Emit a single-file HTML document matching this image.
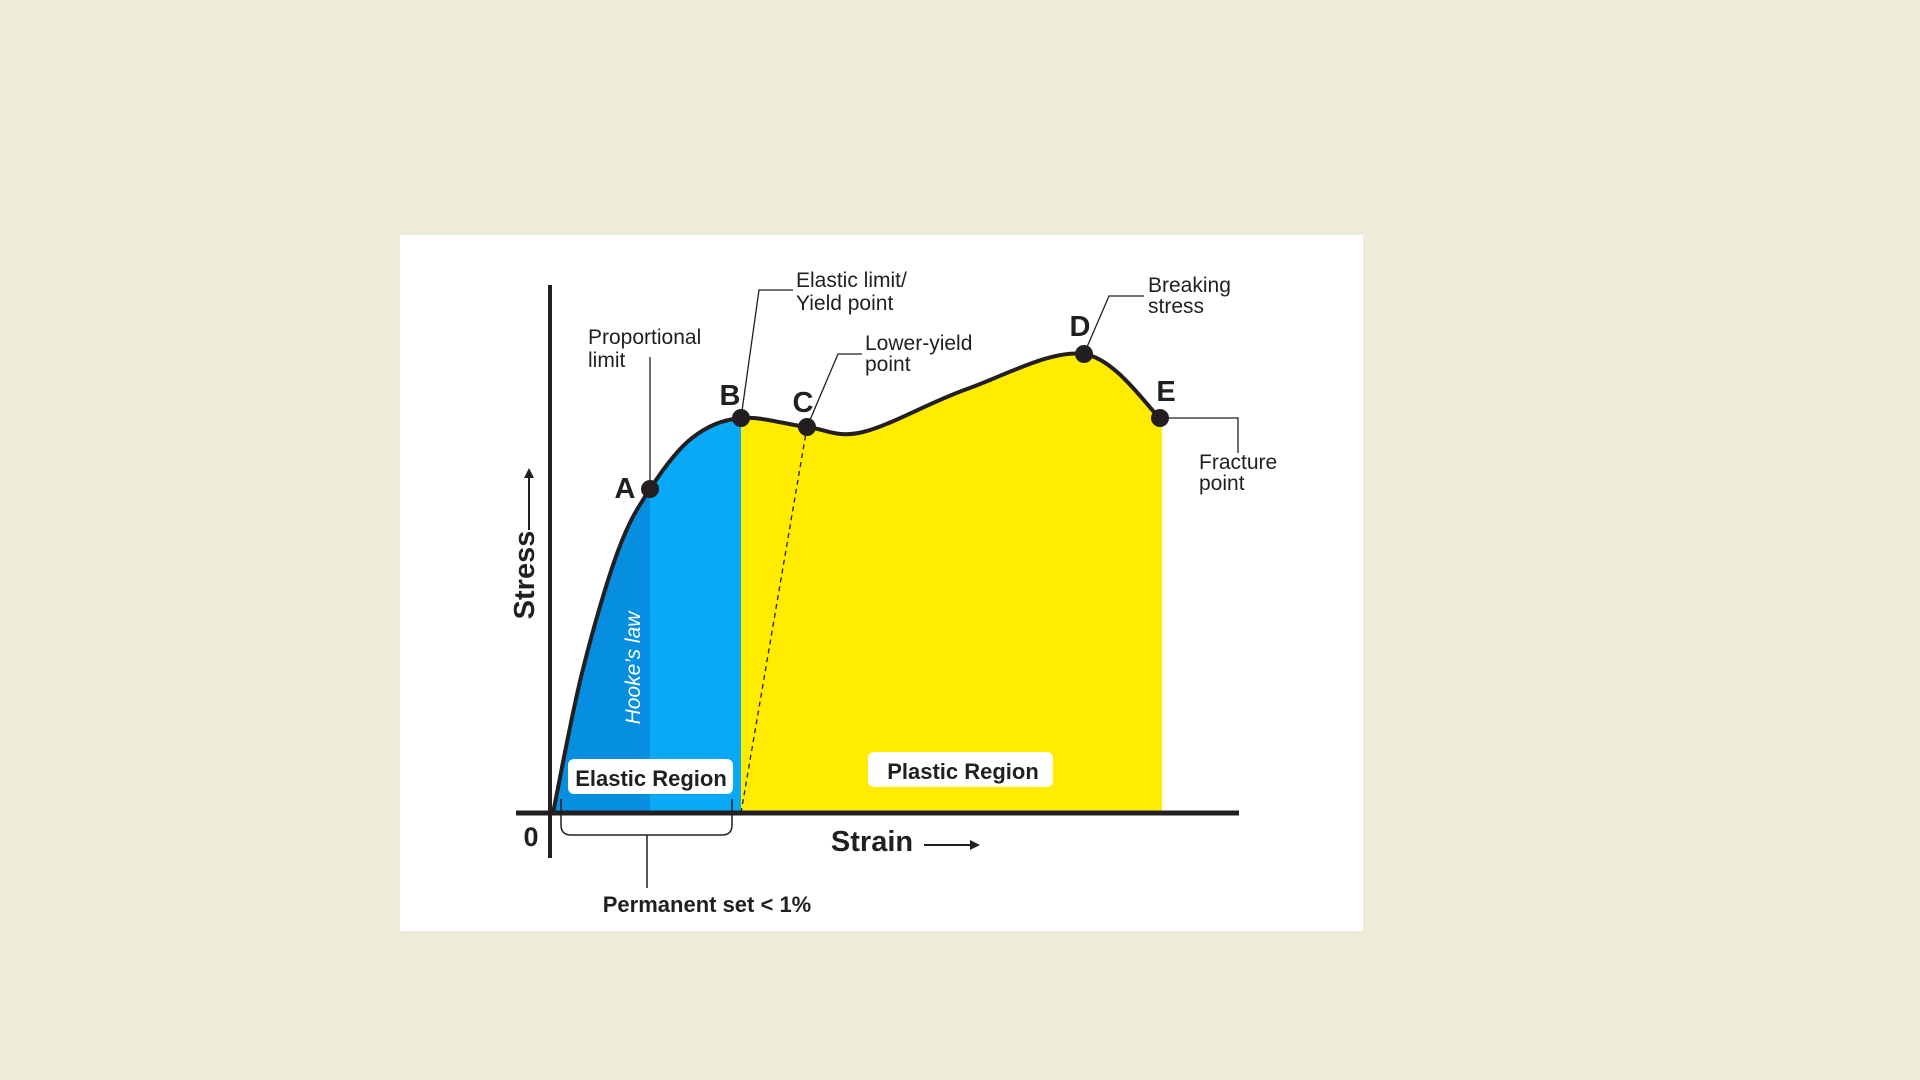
<!DOCTYPE html>
<html><head><meta charset="utf-8"><style>
html,body{margin:0;padding:0;background:#eeecd9;}
svg{display:block;font-family:"Liberation Sans",sans-serif;}
</style></head><body>
<svg id="chart" width="1920" height="1080" viewBox="0 0 1920 1080">
<rect x="0" y="0" width="1920" height="1080" fill="#eeecd9"/>
<rect x="400" y="235" width="963" height="696" fill="#ffffff"/>
<defs><clipPath id="under"><path id="underPath"/></clipPath></defs>
<g id="fills" clip-path="url(#under)"></g>
<g id="marks"></g>
<rect x="568" y="759" width="165" height="35" rx="6" fill="#fff"/>
<text x="651" y="786" text-anchor="middle" font-size="22" font-weight="bold" fill="#231f20">Elastic Region</text>
<rect x="868" y="752" width="185" height="35" rx="6" fill="#fff"/>
<text x="963" y="779" text-anchor="middle" font-size="22" font-weight="bold" fill="#231f20">Plastic Region</text>
<text transform="translate(640,668) rotate(-90)" text-anchor="middle" font-size="21" font-style="italic" fill="#fff">Hooke’s law</text>
<line x1="550" y1="285" x2="550" y2="858" stroke="#231f20" stroke-width="4"/>
<line x1="516" y1="813" x2="1239" y2="813" stroke="#231f20" stroke-width="5"/>
<text x="531" y="846" text-anchor="middle" font-size="27" font-weight="bold" fill="#231f20">0</text>
<text x="872" y="851" text-anchor="middle" font-size="29" font-weight="bold" fill="#231f20">Strain</text>
<line x1="924" y1="845" x2="972" y2="845" stroke="#231f20" stroke-width="2"/>
<polygon points="980,845 970,840 970,850" fill="#231f20"/>
<text transform="translate(534,575) rotate(-90)" text-anchor="middle" font-size="29" font-weight="bold" fill="#231f20">Stress</text>
<line x1="529" y1="530" x2="529" y2="476" stroke="#231f20" stroke-width="2"/>
<polygon points="529,468 524,478 534,478" fill="#231f20"/>
<path d="M561,799 V825 Q561,835 571,835 H722 Q732,835 732,825 V799" fill="none" stroke="#231f20" stroke-width="1.5"/>
<line x1="647" y1="835" x2="647" y2="888" stroke="#231f20" stroke-width="1.5"/>
<text x="707" y="912" text-anchor="middle" font-size="22" font-weight="bold" fill="#231f20">Permanent set &lt; 1%</text>
<g font-size="21" fill="#231f20">
<text x="588" y="344">Proportional</text>
<text x="588" y="367">limit</text>
<polyline points="650,489 650,357" fill="none" stroke="#231f20" stroke-width="1.3"/>
<text x="796" y="287">Elastic limit/</text>
<text x="796" y="310">Yield point</text>
<polyline points="741,418 759,290 793,290" fill="none" stroke="#231f20" stroke-width="1.3"/>
<text x="865" y="350">Lower-yield</text>
<text x="865" y="371">point</text>
<polyline points="807,427 838,354 862,354" fill="none" stroke="#231f20" stroke-width="1.3"/>
<text x="1148" y="292">Breaking</text>
<text x="1148" y="313">stress</text>
<polyline points="1084,354 1109,296 1144,296" fill="none" stroke="#231f20" stroke-width="1.3"/>
<text x="1199" y="469">Fracture</text>
<text x="1199" y="490">point</text>
<polyline points="1160,418 1238,418 1238,453" fill="none" stroke="#231f20" stroke-width="1.3"/>
</g>
</svg>
<script>
const strain=[0,5.8,13,19.4,27.8,37.6,50.8,62,82.8,106.2,121.4];
const stress=[0,35,65.5,81,93.75,98.75,96.5,95.25,106,114.75,98.75];
const keyIdx=[3,5,6,9,10];
const keyNames=["A","B","C","D","E"];
const letterOffsets=[[-25,-1],[-11,-23],[-4,-25],[-4,-28],[6,-27]];
const xS=s=>553+s*5, yS=v=>813-v*4;
const NS="http://www.w3.org/2000/svg";
const P=strain.map((s,i)=>[xS(s),yS(stress[i])]);
let d="M"+P[0][0]+","+P[0][1];
for(let i=0;i<P.length-1;i++){
 const p0=P[Math.max(0,i-1)],p1=P[i],p2=P[i+1],p3=P[Math.min(P.length-1,i+2)];
 const c1=[p1[0]+(p2[0]-p0[0])/6,p1[1]+(p2[1]-p0[1])/6];
 const c2=[p2[0]-(p3[0]-p1[0])/6,p2[1]-(p3[1]-p1[1])/6];
 d+=" C"+c1.join(",")+" "+c2.join(",")+" "+p2.join(",");
}
const last=P[P.length-1];
document.getElementById('underPath').setAttribute('d',d+" L"+(last[0]+2)+","+last[1]+" L"+(last[0]+2)+",813 L"+P[0][0]+",813 Z");
const fills=document.getElementById('fills');
const A=xS(strain[3]),B=xS(strain[5]),E=xS(strain[10])+2;
[[P[0][0],A,"#068ee0","elastic-dark-region"],[A,B,"#0aa9f5","elastic-light-region"],[B,E,"#ffec00","plastic-region"]].forEach(r=>{
 const el=document.createElementNS(NS,'rect');
 el.setAttribute('x',r[0]);el.setAttribute('y',200);el.setAttribute('width',r[1]-r[0]);el.setAttribute('height',613);el.setAttribute('fill',r[2]);
 
 
 fills.appendChild(el);
});
const marks=document.getElementById('marks');
const dash=document.createElementNS(NS,'line');
dash.setAttribute('x1',B);dash.setAttribute('y1',813);dash.setAttribute('x2',xS(strain[6]));dash.setAttribute('y2',yS(stress[6]));
dash.setAttribute('stroke','#231f20');dash.setAttribute('stroke-width','1.3');dash.setAttribute('stroke-dasharray','5,4');


marks.appendChild(dash);
const curve=document.createElementNS(NS,'path');
curve.setAttribute('d',d);curve.setAttribute('fill','none');curve.setAttribute('stroke','#231f20');curve.setAttribute('stroke-width','4');


marks.appendChild(curve);
keyIdx.forEach((k,j)=>{
 const c=document.createElementNS(NS,'circle');
 c.setAttribute('cx',P[k][0]);c.setAttribute('cy',P[k][1]);c.setAttribute('r',9);c.setAttribute('fill','#231f20');
 
 
 marks.appendChild(c);
 const t=document.createElementNS(NS,'text');
 t.setAttribute('x',P[k][0]+letterOffsets[j][0]);t.setAttribute('y',P[k][1]+letterOffsets[j][1]+10);
 t.setAttribute('text-anchor','middle');t.setAttribute('font-size','29');t.setAttribute('font-weight','bold');t.setAttribute('fill','#231f20');
 t.textContent=keyNames[j];
 
 
 marks.appendChild(t);
});
</script>
</body></html>
